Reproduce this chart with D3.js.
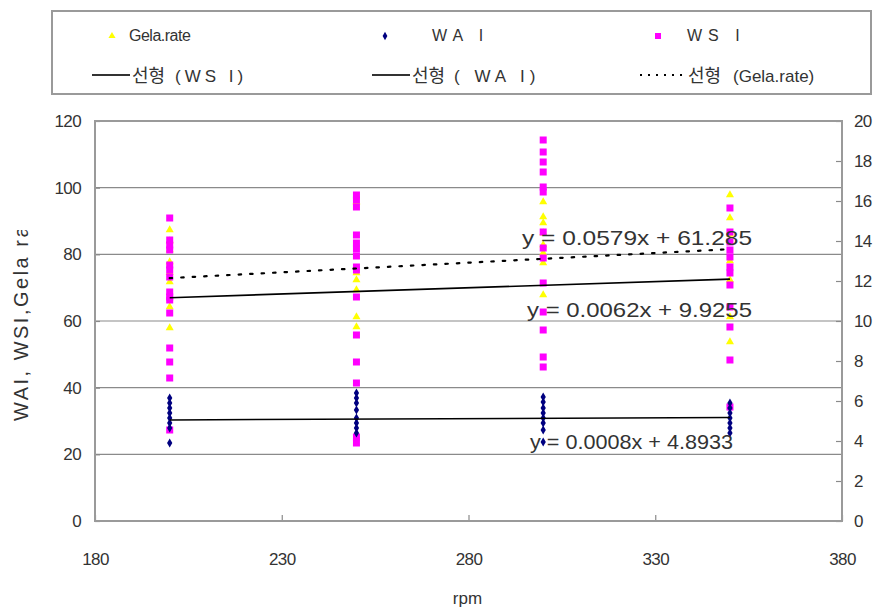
<!DOCTYPE html>
<html>
<head>
<meta charset="utf-8">
<script src="https://cdn.jsdelivr.net/npm/d3@7"></script>
<style>
  html, body { margin: 0; padding: 0; background: #fff; }
  svg { display: block; }
  text { font-family: "Liberation Sans", Arial, sans-serif; fill: #333; }
  .ko { font-family: "Noto Sans CJK KR", "Liberation Sans", sans-serif; }
</style>
</head>
<body>
<svg id="chart" width="888" height="612"></svg>
<script>
// Extrusion speed (rpm) at which each group was measured
const rpm = [200, 250, 300, 350];

// Gelatinization rate (%), primary axis, one list per rpm
const gelaRate = [
  [87.3, 84.0, 81.3, 77.7, 74.5, 71.7, 64.2, 57.9],
  [95.7, 74.4, 72.3, 69.3, 61.2, 58.2],
  [95.7, 91.2, 89.4, 86.4, 82.8, 80.4, 77.4, 67.8],
  [97.8, 90.9, 86.0, 78.0, 72.3, 61.2, 53.7]
];

// Water absorption index, secondary axis
const wai = [
  [6.15, 5.9, 5.65, 5.4, 5.15, 4.9, 4.65, 3.9],
  [6.4, 6.15, 5.9, 5.55, 5.15, 4.9, 4.65, 4.4],
  [6.2, 5.95, 5.65, 5.4, 5.15, 4.9, 4.55, 3.95],
  [5.9, 5.65, 5.4, 5.15, 4.9, 4.65, 4.4]
];

// Water solubility index, secondary axis
const wsi = [
  [15.15, 14.05, 13.8, 13.55, 12.8, 12.55, 12.2, 11.45, 11.2, 11.05, 10.4, 8.65, 7.95, 7.15, 4.55],
  [16.3, 16.05, 15.7, 14.3, 13.9, 13.6, 13.25, 12.7, 12.55, 11.2, 9.3, 7.95, 6.9, 4.2, 3.9],
  [19.05, 18.45, 17.95, 17.45, 16.7, 16.45, 14.45, 13.65, 13.15, 11.9, 10.45, 9.55, 8.2, 7.7],
  [15.65, 14.45, 13.95, 13.55, 13.2, 12.7, 12.4, 11.8, 10.7, 9.7, 8.05, 5.7]
];

// Linear trend lines: y = slope * x + intercept
const trendNames = ["Gela.rate", "WAI", "WSI"];
const trendSlope = [0.0579, 0.0008, 0.0062];
const trendIntercept = [61.285, 4.8933, 9.9255];
const trendAxis = ["left", "right", "right"];
const trendLabels = ["y = 0.0579x + 61.285", "y = 0.0008x + 4.8933", "y = 0.0062x + 9.9255"];

// Axis ticks
const xTicks = [180, 230, 280, 330, 380];
const yLeftTicks = [0, 20, 40, 60, 80, 100, 120];
const yRightTicks = [0, 2, 4, 6, 8, 10, 12, 14, 16, 18, 20];

const svg = d3.select("#chart");
const plot = { left: 95, right: 842, top: 121, bottom: 521 };

const x = d3.scaleLinear().domain([180, 380]).range([plot.left, plot.right]);
const yL = d3.scaleLinear().domain([0, 120]).range([plot.bottom, plot.top]);
const yR = d3.scaleLinear().domain([0, 20]).range([plot.bottom, plot.top]);

// Horizontal gridlines on the primary axis
svg.append("g")
  .selectAll("line")
  .data(yLeftTicks.filter(v => v > 0 && v < 120))
  .join("line")
  .attr("x1", plot.left).attr("x2", plot.right)
  .attr("y1", d => yL(d)).attr("y2", d => yL(d))
  .attr("stroke", "#8a8a8a").attr("stroke-width", 1.2);

// Axes (ticks point into the plot area)
const fontSize = 17;
const gx = svg.append("g").attr("transform", `translate(0,${plot.bottom})`)
  .call(d3.axisBottom(x).tickValues(xTicks).tickSize(-6).tickPadding(32));
const gyl = svg.append("g").attr("transform", `translate(${plot.left},0)`)
  .call(d3.axisLeft(yL).tickValues(yLeftTicks).tickSize(-5).tickPadding(14));
const gyr = svg.append("g").attr("transform", `translate(${plot.right},0)`)
  .call(d3.axisRight(yR).tickValues(yRightTicks).tickSize(-6).tickPadding(12));

[gx, gyl, gyr].forEach(g => {
  g.select(".domain").remove();
  g.selectAll(".tick line").attr("stroke", "#8a8a8a").attr("stroke-width", 1.2);
  g.selectAll(".tick text")
    .attr("font-size", fontSize)
    .attr("font-family", "Liberation Sans, Arial, sans-serif")
    .attr("letter-spacing", -0.6)
    .attr("fill", "#333");
});

// Plot area frame
svg.append("rect")
  .attr("x", plot.left).attr("y", plot.top)
  .attr("width", plot.right - plot.left).attr("height", plot.bottom - plot.top)
  .attr("fill", "none").attr("stroke", "#9a9a9a").attr("stroke-width", 2);

// Axis titles
svg.append("text")
  .attr("x", (plot.left + plot.right) / 2 - 1).attr("y", 604)
  .attr("text-anchor", "middle").attr("font-size", 17)
  .text("rpm");

// The y title runs past the top of its slot and is cut there
svg.append("clipPath").attr("id", "ytitle-clip")
  .append("rect").attr("x", 0).attr("y", 230).attr("width", 60).attr("height", 260);
svg.append("g").attr("clip-path", "url(#ytitle-clip)")
  .append("text")
  .attr("transform", "translate(28,421) rotate(-90)")
  .attr("text-anchor", "start").attr("font-size", 20)
  .attr("letter-spacing", 2.5)
  .text("WAI, WSI,Gela rate");

// Markers
const triangle = d3.symbol().type(d3.symbolTriangle).size(28);
const diamond = d3.symbol().type(d3.symbolDiamond).size(24);

function flatten(groups) {
  const out = [];
  groups.forEach((vals, i) => vals.forEach(v => out.push({ rpm: rpm[i], v })));
  return out;
}

svg.append("g").selectAll("path")
  .data(flatten(gelaRate)).join("path")
  .attr("d", triangle)
  .attr("transform", d => `translate(${x(d.rpm)},${yL(d.v)})`)
  .attr("fill", "#ffff00");

svg.append("g").selectAll("rect")
  .data(flatten(wsi)).join("rect")
  .attr("x", d => x(d.rpm) - 3.5).attr("y", d => yR(d.v) - 3.5)
  .attr("width", 7).attr("height", 7)
  .attr("fill", "#ff00ff");

svg.append("g").selectAll("path")
  .data(flatten(wai)).join("path")
  .attr("d", diamond)
  .attr("transform", d => `translate(${x(d.rpm)},${yR(d.v)})`)
  .attr("fill", "#000080");

// Trend lines over the measured rpm range
const x0 = d3.min(rpm), x1 = d3.max(rpm);
trendNames.forEach((name, i) => {
  const ys = trendAxis[i] === "left" ? yL : yR;
  const f = t => trendSlope[i] * t + trendIntercept[i];
  svg.append("line")
    .attr("x1", x(x0)).attr("y1", ys(f(x0)))
    .attr("x2", x(x1)).attr("y2", ys(f(x1)))
    .attr("stroke", "#000").attr("stroke-width", name === "Gela.rate" ? 2.2 : 1.6)
    .attr("stroke-dasharray", name === "Gela.rate" ? "2.5,9" : null)
    .attr("stroke-linecap", name === "Gela.rate" ? "round" : "butt");
});

// Trend equations
const eqPos = [
  { x: 522, y: 245, w: 230 },
  { x: 530, y: 449, w: 203 },
  { x: 527, y: 317, w: 225 }
];
trendLabels.forEach((t, i) => {
  svg.append("text")
    .attr("x", eqPos[i].x).attr("y", eqPos[i].y)
    .attr("font-size", 21)
    .attr("fill", "#3a3a3a")
    .attr("textLength", eqPos[i].w).attr("lengthAdjust", "spacingAndGlyphs")
    .text(t);
});

// Legend
const lg = svg.append("g");
lg.append("rect")
  .attr("x", 52).attr("y", 11).attr("width", 819).attr("height", 83)
  .attr("fill", "#fff").attr("stroke", "#9a9a9a").attr("stroke-width", 2);

const legendFs = 16;
lg.append("path").attr("d", d3.symbol().type(d3.symbolTriangle).size(22))
  .attr("transform", "translate(112,36)").attr("fill", "#ffff00");
lg.append("text").attr("x", 129).attr("y", 41).attr("font-size", legendFs)
  .attr("letter-spacing", -0.5).text("Gela.rate");

lg.append("path").attr("d", d3.symbol().type(d3.symbolDiamond).size(20))
  .attr("transform", "translate(385,36)").attr("fill", "#000080");
lg.append("text").attr("x", 432).attr("y", 41).attr("font-size", legendFs)
  .attr("letter-spacing", 6).text("WA I");

lg.append("rect").attr("x", 655).attr("y", 33).attr("width", 6).attr("height", 6)
  .attr("fill", "#ff00ff");
lg.append("text").attr("x", 687).attr("y", 41).attr("font-size", legendFs)
  .attr("letter-spacing", 6).text("WS I");

// Trend-line entries: Korean word, then the series name in brackets
const row2 = [
  { x1: 92, x2: 130, kx: 132, tx: 175, ls: 4, dash: null, label: "(WS I)" },
  { x1: 372, x2: 410, kx: 412, tx: 454, ls: 5, dash: null, label: "(  WA I)" },
  { x1: 640, x2: 685, kx: 688, tx: 733, ls: 0, dash: "2,6", label: "(Gela.rate)" }
];
row2.forEach(r => {
  lg.append("line").attr("x1", r.x1).attr("x2", r.x2).attr("y1", 75).attr("y2", 75)
    .attr("stroke", r.dash ? "#000" : "#333")
    .attr("stroke-width", r.dash ? 2 : 2.2)
    .attr("stroke-dasharray", r.dash);
  lg.append("text").attr("class", "ko").attr("x", r.kx).attr("y", 82)
    .attr("font-size", 18).text("선형");
  lg.append("text").attr("x", r.tx).attr("y", 82)
    .attr("font-size", 17)
    .attr("letter-spacing", r.ls)
    .text(r.label);
});
</script>
</body>
</html>
